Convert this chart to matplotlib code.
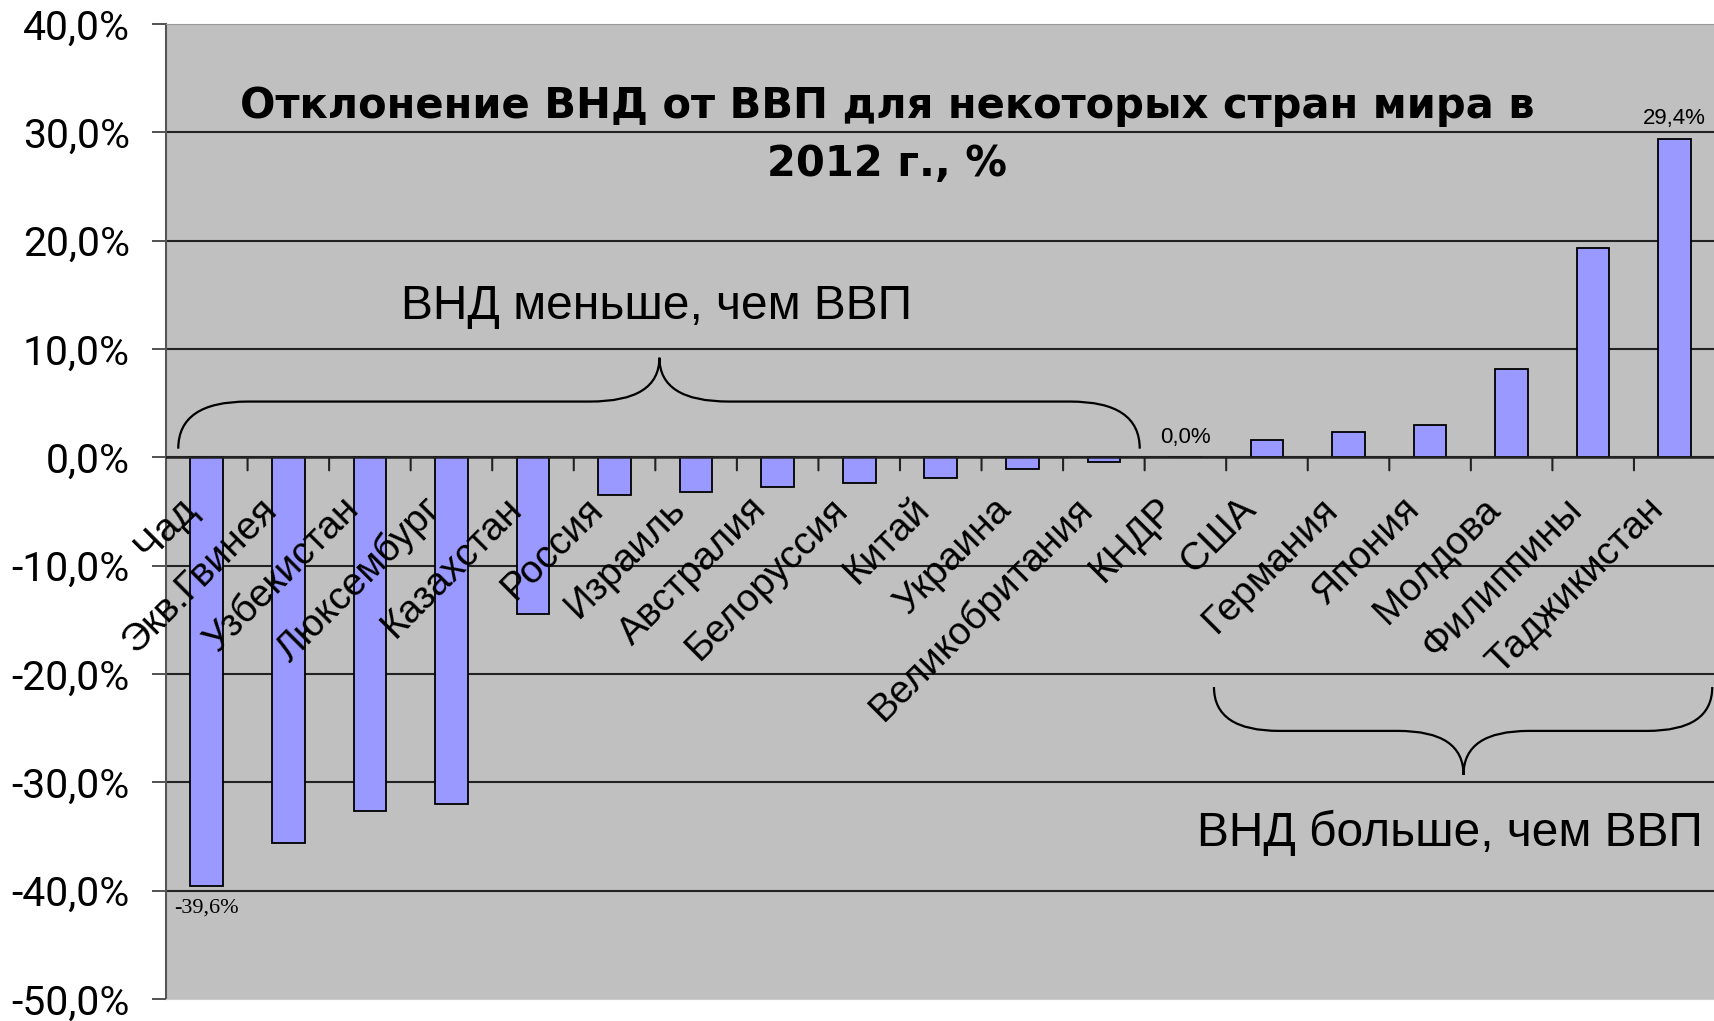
import matplotlib.pyplot as plt
import matplotlib.transforms as mtransforms
from matplotlib.path import Path
from matplotlib.patches import PathPatch
from matplotlib.ticker import FixedLocator, FuncFormatter

plt.rcParams['font.family'] = ['Liberation Sans', 'DejaVu Sans']

countries = ["Чад", "Экв.Гвинея", "Узбекистан", "Люксембург", "Казахстан",
             "Россия", "Израиль", "Австралия", "Белоруссия", "Китай", "Украина",
             "Великобритания", "КНДР", "США", "Германия", "Япония", "Молдова",
             "Филиппины", "Таджикистан"]
deviation = [-39.6, -35.6, -32.6, -32.0, -14.5, -3.5, -3.2, -2.7, -2.4, -1.9,
             -1.1, -0.4, 0.0, 1.6, 2.3, 3.0, 8.2, 19.3, 29.4]
# bars that carry a value label
labelled = ["Чад", "КНДР", "Таджикистан"]

title_lines = ["Отклонение ВНД от ВВП для некоторых стран мира в",
               "2012 г., %"]
note_less = "ВНД меньше, чем ВВП"
note_more = "ВНД больше, чем ВВП"


def pct(v, pos=None):
    return f"{v:.1f}%".replace(".", ",")


def brace(ax, x0, x1, xc, y_end, y_flat, y_tip, r):
    verts = [(x0, y_end), (x0, y_flat), (x0 + r, y_flat),
             (xc - r, y_flat), (xc, y_flat), (xc, y_tip),
             (xc, y_flat), (xc + r, y_flat),
             (x1 - r, y_flat), (x1, y_flat), (x1, y_end)]
    codes = [Path.MOVETO, Path.CURVE3, Path.CURVE3,
             Path.LINETO, Path.CURVE3, Path.CURVE3,
             Path.CURVE3, Path.CURVE3,
             Path.LINETO, Path.CURVE3, Path.CURVE3]
    ax.add_patch(PathPatch(Path(verts, codes), fill=False, lw=1.6,
                           ec="black", clip_on=False, zorder=4))


fig = plt.figure(figsize=(17.15, 10.21), dpi=100)
ax = fig.add_axes([0.0968, 0.0215, 0.9035, 0.955])
ax.set_facecolor("#C0C0C0")

x = list(range(len(countries)))
ax.bar(x, deviation, width=0.4, color="#9999FF", edgecolor="black",
       linewidth=1.3, zorder=3)

ax.set_xlim(-0.5, len(countries) - 0.5)
ax.set_ylim(-50, 40)

# y axis
ax.yaxis.set_major_locator(FixedLocator(range(-50, 41, 10)))
ax.yaxis.set_major_formatter(FuncFormatter(pct))
ax.tick_params(axis="y", labelsize=29.5, length=10, width=1.2, pad=16,
               color="#333333")
for lab in ax.get_yticklabels():
    lab.set_family(["Roboto", "Liberation Sans"])
for y in range(-40, 40, 10):
    ax.axhline(y, color="#222222", lw=1.5, zorder=1)

# category axis runs along zero, ticks between categories
ax.set_xticks([])
ax.axhline(0, color="#222222", lw=1.8, zorder=3.5)
for k in range(1, len(countries)):
    ax.annotate("", xy=(k - 0.5, 0), xytext=(0, -13),
                textcoords="offset pixels",
                arrowprops=dict(arrowstyle="-", color="#222222", lw=1.5,
                                shrinkA=0, shrinkB=0))

label_tr = mtransforms.offset_copy(ax.transData, fig=fig, x=0, y=-46,
                                   units="dots")
for i, name in enumerate(countries):
    ax.text(i - 0.2, 0, name, transform=label_tr, rotation=45,
            rotation_mode="anchor", ha="right", va="center", fontsize=28,
            zorder=5)

# value labels
for name in labelled:
    i = countries.index(name)
    v = deviation[i]
    off = 20 if v >= 0 else -22
    fam = ["Liberation Serif"] if v < 0 else ["Liberation Sans Narrow", "Liberation Sans"]
    ax.annotate(pct(v), xy=(i, v), xytext=(0, off), textcoords="offset pixels",
                ha="center", va="center", fontsize=16, family=fam, zorder=5)

ax.spines["left"].set_color("#555555")
ax.spines["left"].set_linewidth(1.5)
ax.spines["top"].set_color("#999999")
ax.spines["bottom"].set_color("#CCCCCC")
ax.spines["right"].set_visible(False)

for line, yy in zip(title_lines, [0.916, 0.856]):
    ax.text(0.4655, yy, line, transform=ax.transAxes, ha="center",
            va="center", fontsize=30, fontweight="bold",
            family=["DejaVu Sans"], zorder=5)

ax.text(5.51, 13.9, note_less, ha="center", va="center", fontsize=34.5,
        zorder=5)
ax.text(15.24, -34.7, note_more, ha="center", va="center", fontsize=34.5,
        zorder=5)

brace(ax, -0.35, 11.44, 5.55, 0.8, 5.15, 9.2, 0.85)
brace(ax, 12.35, 18.46, 15.41, -21.2, -25.25, -29.3, 0.8)

fig.savefig("out.png", dpi=100)
